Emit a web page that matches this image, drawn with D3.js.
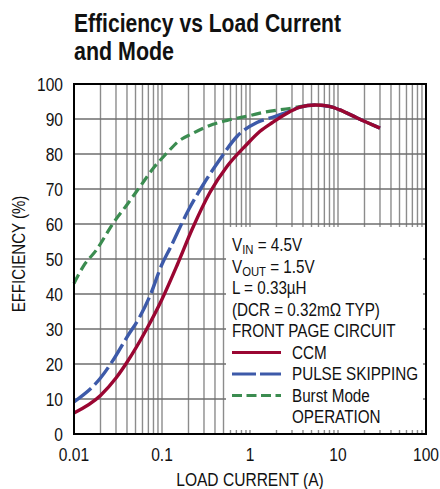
<!DOCTYPE html>
<html>
<head>
<meta charset="utf-8">
<script src="https://cdn.jsdelivr.net/npm/d3@7"></script>
<style>
  body { margin: 0; background: #fff; }
  svg text { font-family: "Liberation Sans", Arial, sans-serif; fill: #111; }
</style>
</head>
<body>
<svg id="chart" width="440" height="489"></svg>
<script>
// Data
const ccmCurrent = [0.01, 0.02, 0.03, 0.04, 0.067, 0.1, 0.15, 0.22, 0.35, 0.55, 0.9, 1.3, 1.8, 2.8, 3.7, 5.5, 8, 10.5, 16.5, 30];
const ccmEff     = [6, 11, 16, 20.5, 30, 38.5, 48.5, 58.5, 69, 76.5, 82.5, 86.5, 89, 92, 93.4, 94, 93.6, 92.6, 90.3, 87.4];

const skipCurrent = [0.01, 0.02, 0.027, 0.04, 0.056, 0.073, 0.1, 0.123, 0.2, 0.29, 0.45, 0.71, 1.2, 1.8, 2.8, 3.7, 5.5, 8, 10.5, 16.5, 30];
const skipEff     = [9.2, 16, 20.6, 27.7, 33.5, 39.5, 48.5, 53, 64, 71, 78.3, 85, 89, 90.5, 92.2, 93.4, 94, 93.6, 92.6, 90.3, 87.4];

const burstCurrent = [0.01, 0.0126, 0.018, 0.028, 0.04, 0.056, 0.08, 0.114, 0.15, 0.22, 0.38, 0.55, 1, 1.5, 2.8, 4.4, 5.5, 8, 10.5, 16.5, 30];
const burstEff     = [43, 47.7, 52.6, 60.3, 65.5, 70.6, 76, 80.3, 83.4, 85.8, 88.5, 89.6, 91, 92, 93, 93.8, 94, 93.6, 92.6, 90.3, 87.4];

const xTicks = [0.01, 0.1, 1, 10, 100];
const xTickLabels = ["0.01", "0.1", "1", "10", "100"];
const yTicks = [0, 10, 20, 30, 40, 50, 60, 70, 80, 90, 100];

const legendNotes = ["V|IN| = 4.5V", "V|OUT| = 1.5V", "L = 0.33µH", "(DCR = 0.32mΩ TYP)", "FRONT PAGE CIRCUIT"];
const seriesNames = ["CCM", "PULSE SKIPPING", "Burst Mode"];

// Layout
const margin = { top: 84, right: 14, bottom: 55, left: 74 };
const width = 440 - margin.left - margin.right;
const height = 489 - margin.top - margin.bottom;

const svg = d3.select("#chart");
const g = svg.append("g").attr("transform", `translate(${margin.left},${margin.top})`);

const x = d3.scaleLog().domain([0.01, 100]).range([0, width]);
const y = d3.scaleLinear().domain([0, 100]).range([height, 0]);

// squeezed text, to look like Helvetica Narrow
function ntext(parent, tx, ty, size, anchor, sx) {
    return parent.append("text")
        .attr("transform", `translate(${tx},${ty}) scale(${sx || 0.82},1)`)
        .attr("text-anchor", anchor || "start")
        .style("font-size", size + "px");
}

// Title
svg.append("text").attr("x", 74).attr("y", 32)
    .attr("textLength", 267).attr("lengthAdjust", "spacingAndGlyphs")
    .style("font-size", "26px").style("font-weight", "bold")
    .text("Efficiency vs Load Current");
svg.append("text").attr("x", 74).attr("y", 60)
    .attr("textLength", 100).attr("lengthAdjust", "spacingAndGlyphs")
    .style("font-size", "26px").style("font-weight", "bold")
    .text("and Mode");

// Grid
const minor = [];
for (let d = 0.01; d < 100; d *= 10) {
    for (let k = 2; k <= 9; k++) minor.push(+(d * k).toPrecision(2));
    if (d > 0.01) minor.push(+d.toPrecision(2));
}
g.append("g").selectAll("line").data(minor).join("line")
    .attr("x1", d => x(d)).attr("x2", d => x(d))
    .attr("y1", 0).attr("y2", height)
    .attr("stroke", "#8c8c8c").attr("stroke-width", 1.4);
g.append("g").selectAll("line").data(yTicks.slice(1, -1)).join("line")
    .attr("x1", 0).attr("x2", width)
    .attr("y1", d => y(d)).attr("y2", d => y(d))
    .attr("stroke", "#6e6e6e").attr("stroke-width", 1.4);

// Curves
const line = d3.line().x(d => x(d[0])).y(d => y(d[1])).curve(d3.curveMonotoneX);
const series = [
    { cur: burstCurrent, eff: burstEff, color: "#3b8c50", width: 3.2, dash: "10,5" },
    { cur: skipCurrent, eff: skipEff, color: "#3d5aa9", width: 3.4, dash: "22,5" },
    { cur: ccmCurrent, eff: ccmEff, color: "#9a0632", width: 3.4, dash: null }
];
series.forEach(s => {
    g.append("path")
        .datum(s.cur.map((c, i) => [c, s.eff[i]]))
        .attr("d", line)
        .attr("fill", "none")
        .attr("stroke", s.color)
        .attr("stroke-width", s.width)
        .attr("stroke-dasharray", s.dash);
});

// Legend box (blanks the grid)
const box = { x0: 152, y0: 143, x1: 349, y1: 346 };
g.append("rect")
    .attr("x", box.x0).attr("y", box.y0)
    .attr("width", box.x1 - box.x0).attr("height", box.y1 - box.y0)
    .attr("fill", "#fff");

// Frame
g.append("rect").attr("width", width).attr("height", height)
    .attr("fill", "none").attr("stroke", "#000").attr("stroke-width", 2);

// Tick labels
yTicks.forEach(d => {
    ntext(g, -11, y(d) + 7, 19, "end").text(d);
});
xTicks.forEach((d, i) => {
    ntext(g, x(d), height + 27, 19, "middle").text(xTickLabels[i]);
});

// Axis titles
ntext(svg, 250, 486, 17.5, "middle", 0.89).text("LOAD CURRENT (A)");
svg.append("text")
    .attr("transform", "translate(25,254) rotate(-90) scale(0.86,1)")
    .attr("text-anchor", "middle").style("font-size", "17.5px")
    .text("EFFICIENCY (%)");

// Legend text
const lx = 232, lineH = 21.5, firstBase = 251, ls = 0.87;
legendNotes.forEach((t, i) => {
    const parts = t.split("|");
    const txt = ntext(svg, lx, firstBase + i * lineH, 17.5, "start", ls);
    txt.append("tspan").text(parts[0]);
    if (parts.length > 1) {
        txt.append("tspan").attr("dy", 3).style("font-size", "13px").text(parts[1]);
        txt.append("tspan").attr("dy", -3).text(parts[2]);
    }
});
const legendSeries = [series[2], series[1], series[0]];
legendSeries.forEach((s, i) => {
    const base = firstBase + (legendNotes.length + i) * lineH;
    svg.append("line")
        .attr("x1", lx).attr("x2", 281)
        .attr("y1", base - 6).attr("y2", base - 6)
        .attr("stroke", s.color).attr("stroke-width", 3.2)
        .attr("stroke-dasharray", s.dash ? (i === 1 ? "24,4" : "10,4.5") : null);
    ntext(svg, 292, base, 17.5, "start", ls).text(seriesNames[i]);
});
ntext(svg, 292, firstBase + (legendNotes.length + 3) * lineH, 17.5, "start", ls).text("OPERATION");
</script>
</body>
</html>
